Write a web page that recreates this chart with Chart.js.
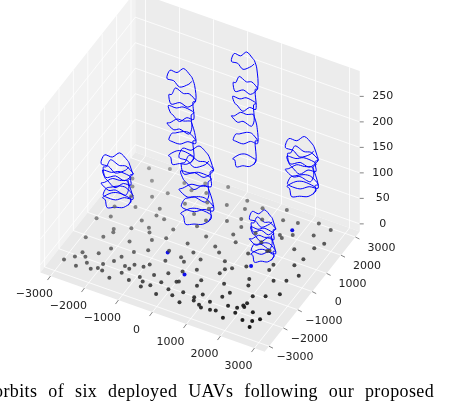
<!DOCTYPE html><html><head><meta charset="utf-8">
<script src="https://cdn.jsdelivr.net/npm/chart.js@4"></script>
<style>html,body{margin:0;padding:0;background:#fff;overflow:hidden}
#wrap{position:relative;width:454px;height:406px;overflow:hidden}
#cap{position:absolute;left:-6px;top:381px;font-family:"Liberation Serif",serif;font-size:18px;word-spacing:6px;letter-spacing:0.4px;white-space:nowrap;color:#000}
</style></head><body><div id="wrap"><canvas id="c" width="454" height="406"></canvas><div id="cap">orbits of six deployed UAVs following our proposed</div></div>
<script>
// ground users (meters)
const userX=[-2900,-2700,-2500,-2600,-2300,-2100,-2200,-1900,-1800,-1700,-1500,-1600,-1300,-1200,-1000,-900,-800,-600,-500,-400,-200,-100,100,200,300,500,600,700,900,1000,1200,1300,1500,1600,1800,1900,2100,2200,2400,2500,2700,2800,2900,
-2800,-2400,-2000,-1700,-1400,-1100,-800,-500,-200,100,400,700,1000,1300,1600,1900,2200,2500,2800,
-2900,-2600,-2300,-1900,-1500,-1200,-900,-600,-300,0,300,600,900,1200,1500,1800,2100,2400,2700,
-2700,-2200,-1800,-1300,-900,-400,0,400,800,1300,1700,2100,2600,2900,
-2500,-2000,-1600,-1100,-700,-300,200,600,1100,1400,1800,2300,2700,
-2800,-2300,-1700,-1200,-600,-100,500,1000,1500,2000,2500,2900,
-2600,-2100,-1500,-1000,-400,300,800,1400,1900,2400,2800,
-1400,-800,-200,400,1100,1700,2200,
-2450,-1950,-1350,-650,150,850,1450,2050,2650,-2250,-1150,-50,1050,2150,-2650,-1550,-450,650,1750,2750];
const userY=[-2800,-2500,-2900,-2200,-2600,-2800,-2000,-2400,-2700,-2100,-2900,-1800,-2500,-2200,-2700,-1900,-2400,-2800,-2100,-2600,-2300,-2900,-2500,-2000,-2700,-2400,-2900,-1900,-2600,-2200,-2800,-2400,-2000,-2700,-2300,-2900,-2500,-1900,-2700,-2200,-2900,-2400,-2000,
-1500,-1200,-1600,-1000,-1400,-1100,-1700,-1300,-900,-1500,-1200,-1600,-1000,-1400,-1700,-1100,-1500,-1300,-1000,
-500,-200,-700,-400,-100,-600,-300,-800,-200,-500,-700,-100,-400,-600,-300,-800,-100,-500,-300,
300,600,100,500,200,700,400,100,600,300,700,200,500,100,
1000,1300,900,1500,1200,1100,1400,900,1300,1000,1500,1200,900,
1800,2000,1700,2200,1900,2100,1700,2000,2300,1800,2100,1900,
2500,2800,2400,2700,2900,2600,2500,2800,2400,2700,2600,
-300,2300,-1800,2200,-2700,1600,-2100,
-2350,-2650,-2150,-2550,-2050,-2450,-2750,-2250,-2600,-850,-1950,-1050,-750,-2050,1450,550,1650,1350,750,1550];
const blueX=[1900,200,1600,-600];
const blueY=[2000,-1600,-200,-900];
// UAV orbits: centers, radius, loop altitudes
const uavX=[-2500,-1000,-300,300,1800,1750];
const uavY=[0,1000,400,2400,2900,250];
const uavR=[390,350,420,320,400,320];
const uavZ=[[25,40,55,70,85,100],[110,150,175,200,230,270],[30,55,80,105,130,150],[85,130,170,200,235,285],[45,60,80,95,110,130],[5,20,35,50,65,80]];
const loopDX=[1,0.85,0.4,-0.2,-0.7,-1,-0.85,-0.35,0.25,0.8,1.05];
const loopDY=[0,0.55,0.95,0.9,0.65,0.1,-0.5,-0.95,-0.9,-0.55,0.05];
const loopDZ=[0,4,-3,5,2,-4,3,-2,6,1,8];
const xTicks=[-3000,-2000,-1000,0,1000,2000,3000];
const yTicks=[-3000,-2000,-1000,0,1000,2000,3000];
const zTicks=[0,50,100,150,200,250];
const L=3300,ZMIN=-15,ZMAX=300;
function P(x,y,z){return {x:200+x*0.034+y*0.0144,y:252+x*0.012-y*0.0182-(z-ZMIN)*0.51};}
const ground=[],gcol=[];
userX.forEach((x,i)=>{const y=userY[i];ground.push(P(x,y,0));const d=((x-y)/(2*L)+1)/2;const g=Math.round(130-125*d);gcol.push(`rgba(${g},${g},${g},${0.6+0.4*d})`);});
const blues=blueX.map((x,i)=>P(x,blueY[i],0));
const ds=[{data:ground,pointRadius:2,pointBackgroundColor:gcol,pointBorderWidth:0,showLine:false}];
ds.push({data:blues,pointRadius:2,pointBackgroundColor:'#1010ee',pointBorderWidth:0,showLine:false});
uavX.forEach((cx,k)=>{const pts=[];uavZ[k].forEach((z,j)=>{loopDX.forEach((dx,m)=>{const w=1+0.15*((m+j)%3-1);pts.push(P(cx+dx*uavR[k]*w,uavY[k]+loopDY[m]*uavR[k]*w,z+loopDZ[(m+j)%11]));});});
 ds.push({data:pts,showLine:true,borderColor:'#0000ff',borderWidth:1,pointRadius:0,fill:false,tension:0.3});});
const box={id:'box',beforeDatasetsDraw(ch){const c=ch.ctx;c.save();
 const poly=(pts,f)=>{c.beginPath();pts.forEach((p,i)=>i?c.lineTo(p.x,p.y):c.moveTo(p.x,p.y));c.closePath();c.fillStyle=f;c.fill();};
 poly([P(-L,-L,ZMIN),P(-L,L,ZMIN),P(-L,L,ZMAX),P(-L,-L,ZMAX)],'#f2f2f2');
 poly([P(-L,L,ZMIN),P(L,L,ZMIN),P(L,L,ZMAX),P(-L,L,ZMAX)],'#ececec');
 poly([P(-L,-L,ZMIN),P(L,-L,ZMIN),P(L,L,ZMIN),P(-L,L,ZMIN)],'#e9e9e9');
 c.strokeStyle='#ffffff';c.lineWidth=0.8;
 const ln=(a,b)=>{c.beginPath();c.moveTo(a.x,a.y);c.lineTo(b.x,b.y);c.stroke();};
 xTicks.forEach(t=>{ln(P(t,-L,ZMIN),P(t,L,ZMIN));ln(P(t,L,ZMIN),P(t,L,ZMAX));});
 yTicks.forEach(t=>{ln(P(-L,t,ZMIN),P(L,t,ZMIN));ln(P(-L,t,ZMIN),P(-L,t,ZMAX));});
 zTicks.forEach(t=>{ln(P(-L,-L,t),P(-L,L,t));ln(P(-L,L,t),P(L,L,t));});
 c.strokeStyle='#333';c.lineWidth=0.6;
 c.fillStyle='#222';c.font='11px "DejaVu Sans"';c.textAlign='center';c.textBaseline='middle';
 xTicks.forEach(t=>{const p=P(t,-L,ZMIN);ln(p,{x:p.x-3,y:p.y+4});c.fillText(String(t).replace('-','\u2212'),p.x-16,p.y+18);});
 yTicks.forEach(t=>{const p=P(L,t,ZMIN);ln(p,{x:p.x+4,y:p.y+2});c.fillText(String(t).replace('-','\u2212'),p.x+26,p.y+11);});
 zTicks.forEach(t=>{const p=P(L,L,t);ln(p,{x:p.x+4,y:p.y});c.fillText(String(t),p.x+23,p.y);});
 c.restore();}};
new Chart(document.getElementById('c'),{type:'scatter',data:{datasets:ds},plugins:[box],
 options:{responsive:false,animation:false,layout:{padding:0},plugins:{legend:{display:false},tooltip:{enabled:false}},
 scales:{x:{type:'linear',min:0,max:454,display:false},y:{type:'linear',min:0,max:406,reverse:true,display:false}}}});
</script></body></html>
